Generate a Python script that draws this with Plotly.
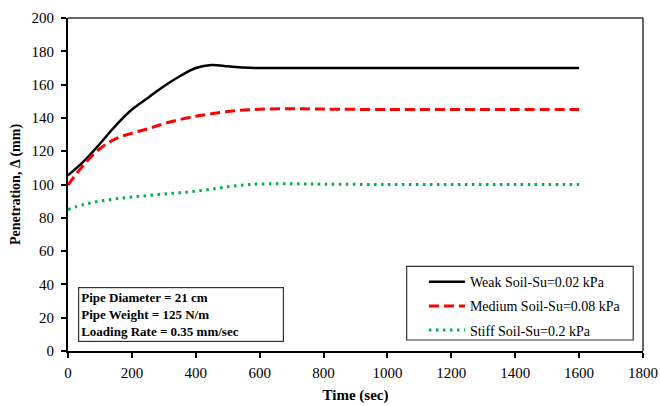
import plotly.graph_objects as go

time_s = [0, 50, 100, 150, 200, 250, 300, 350, 400, 450, 500, 550, 600, 700, 800, 1000, 1200, 1400, 1600]
weak = [105.5, 114, 124.5, 135.5, 145, 152, 159, 165, 170, 171.8, 171, 170.2, 170, 170, 170, 170, 170, 170, 170]
medium = [99.7, 112, 121.5, 127.5, 130.8, 133.5, 136.5, 139, 141, 142.5, 143.8, 144.7, 145.2, 145.5, 145.3, 145, 145, 145, 145]
stiff = [85, 88, 90, 91.4, 92.5, 93.4, 94.3, 95.1, 96, 97.2, 98.7, 99.7, 100.3, 100.4, 100.2, 100, 100, 100, 100]

names = ["Weak Soil-Su=0.02 kPa", "Medium Soil-Su=0.08 kPa", "Stiff Soil-Su=0.2 kPa"]
x_ticks = [0, 200, 400, 600, 800, 1000, 1200, 1400, 1600, 1800]
y_ticks = [0, 20, 40, 60, 80, 100, 120, 140, 160, 180, 200]
info_lines = ["Pipe Diameter = 21 cm", "Pipe Weight = 125 N/m", "Loading Rate = 0.35 mm/sec"]

FONT = "Liberation Serif"

fig = go.Figure()
fig.add_trace(go.Scatter(x=time_s, y=weak, name=names[0], mode="lines", line_shape="spline",
                         line=dict(color="#000000", width=2.5), legendgroup="a"))
fig.add_trace(go.Scatter(x=time_s, y=medium, name=names[1], mode="lines", line_shape="spline",
                         line=dict(color="#FF0000", width=3, dash="10px,5px"), legendgroup="b"))
fig.add_trace(go.Scatter(x=time_s, y=stiff, name=names[2], mode="lines", line_shape="spline",
                         line=dict(color="#00B050", width=3, dash="2.5px,4.5px"), legendgroup="c"))

fig.update_layout(
    width=660, height=406,
    margin=dict(l=68, r=17, t=18, b=55, autoexpand=False),
    paper_bgcolor="white", plot_bgcolor="white",
    font=dict(family=FONT, color="black", size=15),
    showlegend=True,
    legend=dict(x=0.619, y=0.255, xanchor="left", yanchor="top",
                bgcolor="rgba(0,0,0,0)", borderwidth=0,
                font=dict(family=FONT, size=14, color="black"),
                tracegroupgap=3, itemwidth=36),
    xaxis=dict(range=[0, 1800], tickvals=x_ticks, showgrid=False, zeroline=False, automargin=False,
               showline=True, linecolor="black", linewidth=2,
               ticks="outside", ticklen=5, tickwidth=2, tickcolor="black",
               tickfont=dict(family=FONT, size=15), ticklabelstandoff=2,
               title=dict(text="<b>Time (sec)</b>", font=dict(family=FONT, size=15), standoff=9)),
    yaxis=dict(range=[0, 200], tickvals=y_ticks, showgrid=False, zeroline=False, automargin=False,
               showline=True, linecolor="black", linewidth=2,
               ticks="outside", ticklen=5, tickwidth=2, tickcolor="black",
               tickfont=dict(family=FONT, size=15), ticklabelstandoff=4,
               title=dict(text="<b>Penetration, Δ (mm)</b>", font=dict(family=FONT, size=14), standoff=8)),
    shapes=[
        dict(type="line", xref="paper", yref="paper", x0=0, x1=1, y0=1, y1=1,
             line=dict(color="#333333", width=1.5)),
        dict(type="line", xref="paper", yref="paper", x0=1, x1=1, y0=0, y1=1,
             line=dict(color="#333333", width=1.5)),
        dict(type="rect", xref="paper", yref="paper", x0=0.589, x1=0.983, y0=0.033, y1=0.254,
             line=dict(color="#333333", width=1.2), fillcolor="rgba(0,0,0,0)"),
    ],
    annotations=[
        dict(text="<b>" + "<br>".join(info_lines) + "</b>", xref="paper", yref="paper",
             x=0.0167, y=0.028, xanchor="left", yanchor="bottom", align="left",
             showarrow=False, font=dict(family=FONT, size=13, color="black"),
             bordercolor="#333333", borderwidth=1.2, borderpad=2, width=200, bgcolor="white"),
    ],
)

fig.write_html("out.html")
